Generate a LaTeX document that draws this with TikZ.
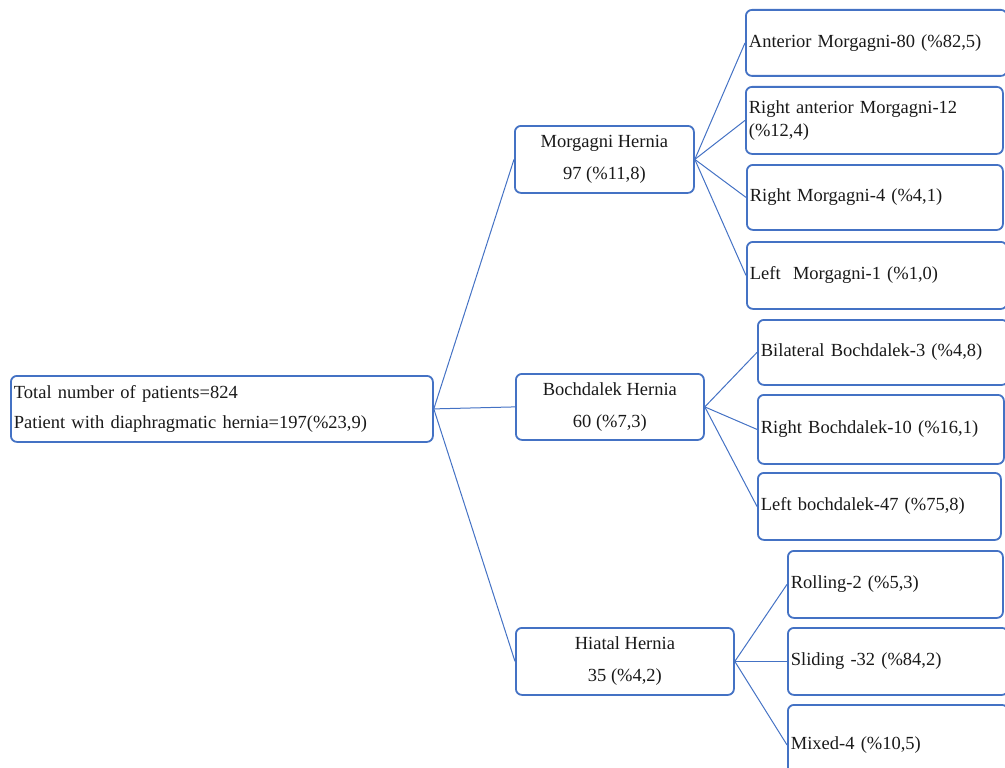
\documentclass[tikz,border=0pt]{standalone}
\usepackage{fontspec}
\setmainfont{Liberation Serif}
\definecolor{bl}{RGB}{68,114,196}
\begin{document}
\begin{tikzpicture}[x=1pt,y=-1pt,
  box/.style={draw=bl, line width=1.8pt, rounded corners=6pt, inner sep=0pt,
    font=\fontsize{18.5}{30}\selectfont, text=black!90, anchor=north west},
  lbox/.style={box, align=left, inner xsep=3pt},
  cbox/.style={box, align=center, font=\fontsize{18.5}{32}\selectfont},
  con/.style={draw=bl, line width=1pt}]
\useasboundingbox (0,0) rectangle (1005,768);
% root
\node[lbox, text width=416pt, minimum height=66pt] (root) at (10,375)
  {Total number of patients=824\\Patient with diaphragmatic hernia=197(\%23,9)};
% middle
\node[cbox, minimum width=179pt, minimum height=67pt] (mh) at (514,125) {Morgagni Hernia\\97 (\%11,8)};
\node[cbox, minimum width=188pt, minimum height=66pt] (bh) at (515,373) {Bochdalek Hernia\\60 (\%7,3)};
\node[cbox, minimum width=218pt, minimum height=67pt] (hh) at (515,627) {Hiatal Hernia\\35 (\%4,2)};
% Morgagni children
\node[lbox, text width=255pt, minimum height=66pt] (m1) at (745,9) {Anterior Morgagni-80 (\%82,5)};
\node[lbox, text width=251pt, minimum height=67pt, font=\fontsize{18.5}{23}\selectfont] (m2) at (745,86) {Right anterior Morgagni-12\\(\%12,4)};
\node[lbox, text width=250pt, minimum height=65pt] (m3) at (746,164) {Right Morgagni-4 (\%4,1)};
\node[lbox, text width=254pt, minimum height=67pt] (m4) at (746,241) {Left\ \ Morgagni-1 (\%1,0)};
% Bochdalek children
\node[lbox, text width=244pt, minimum height=65pt] (b1) at (757,319) {Bilateral Bochdalek-3 (\%4,8)};
\node[lbox, text width=240pt, minimum height=69pt] (b2) at (757,394) {Right Bochdalek-10 (\%16,1)};
\node[lbox, text width=237pt, minimum height=67pt] (b3) at (757,472) {Left bochdalek-47 (\%75,8)};
% Hiatal children
\node[lbox, text width=209pt, minimum height=67pt] (h1) at (787,550) {Rolling-2 (\%5,3)};
\node[lbox, text width=214pt, minimum height=67pt] (h2) at (787,627) {Sliding -32 (\%84,2)};
\node[lbox, text width=214pt, minimum height=80pt] (h3) at (787,704) {Mixed-4 (\%10,5)};
% connectors
\draw[con] (root.east) -- (mh.west);
\draw[con] (root.east) -- (bh.west);
\draw[con] (root.east) -- (hh.west);
\foreach \c in {m1,m2,m3,m4} \draw[con] (mh.east) -- (\c.west);
\foreach \c in {b1,b2,b3} \draw[con] (bh.east) -- (\c.west);
\foreach \c in {h1,h2,h3} \draw[con] (hh.east) -- (\c.west);
\end{tikzpicture}
\end{document}
